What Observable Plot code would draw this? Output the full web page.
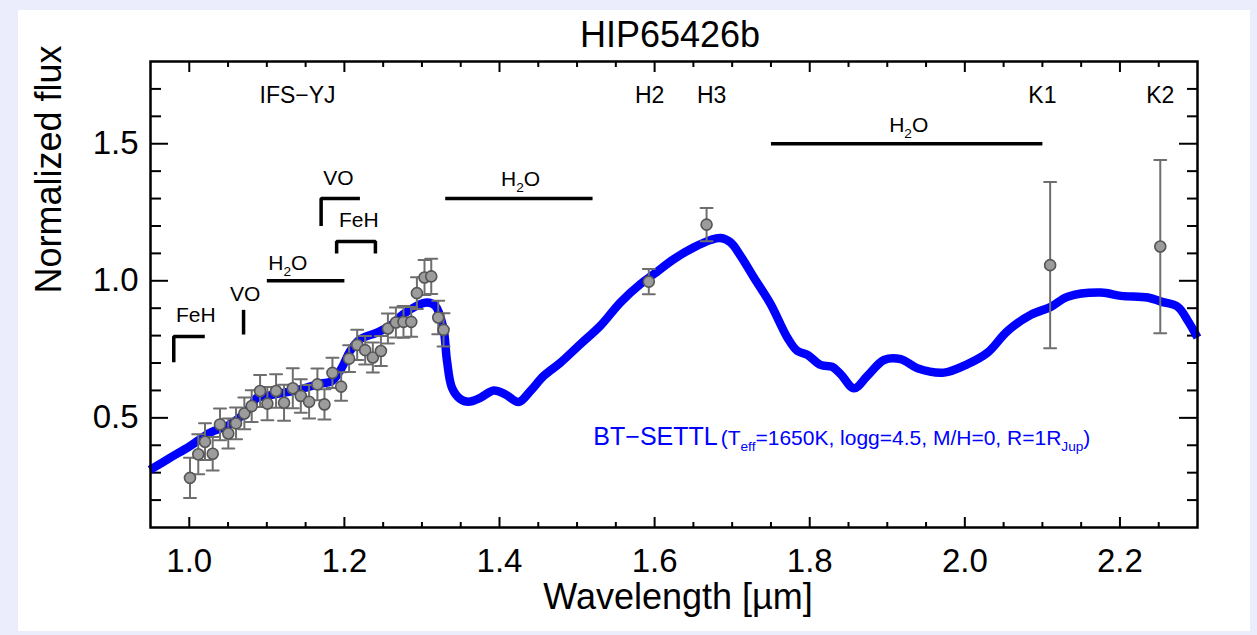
<!DOCTYPE html>
<html><head><meta charset="utf-8">
<script src="https://cdn.jsdelivr.net/npm/d3@7"></script>
<script src="https://cdn.jsdelivr.net/npm/@observablehq/plot@0.6"></script>
<style>
html,body{margin:0;padding:0;background:#ebedfc;width:1257px;height:635px;overflow:hidden;}
#panel{position:absolute;left:18px;top:10px;width:1232px;height:621px;background:#fff;}
</style></head><body><div id="panel"></div>
<script>
// ---------- data ----------
const titleText = "HIP65426b";
const xLabel = "Wavelength [µm]";
const yLabel = "Normalized flux";
const xTicks = [1.0, 1.2, 1.4, 1.6, 1.8, 2.0, 2.2];
const xMinor = [1.05, 1.1, 1.15, 1.25, 1.3, 1.35, 1.45, 1.5, 1.55, 1.65, 1.7, 1.75, 1.85, 1.9, 1.95, 2.05, 2.1, 2.15, 2.25];
const yTicks = [0.5, 1.0, 1.5];
const yMinor = [0.2, 0.3, 0.4, 0.6, 0.7, 0.8, 0.9, 1.1, 1.2, 1.3, 1.4, 1.6, 1.7];

// BT-SETTL model spectrum
const modelWave = [0.9493,0.9751,1.0009,1.0267,1.0525,1.0783,1.087,1.0999,1.1429,1.1687,1.1838,1.1967,1.2074,1.2203,1.2419,1.2591,1.2759,1.2935,1.3064,1.3172,1.3275,1.3323,1.3387,1.3494,1.3601,1.3752,1.3924,1.4075,1.4247,1.4398,1.457,1.4785,1.5043,1.5301,1.5559,1.5818,1.5989,1.6248,1.6506,1.6721,1.685,1.6979,1.7108,1.728,1.7496,1.7711,1.784,1.7969,1.8141,1.8292,1.84,1.8571,1.8744,1.8958,1.9174,1.9389,1.9733,2.0035,2.0293,2.0551,2.0852,2.111,2.1326,2.1756,2.2014,2.2358,2.253,2.2746,2.2875,2.3];
const modelFlux = [0.31,0.354,0.397,0.446,0.476,0.537,0.573,0.58,0.604,0.625,0.634,0.683,0.744,0.787,0.811,0.836,0.878,0.909,0.921,0.909,0.829,0.708,0.61,0.569,0.559,0.573,0.6,0.586,0.558,0.598,0.653,0.701,0.769,0.836,0.921,0.988,1.024,1.079,1.122,1.149,1.156,1.14,1.091,1.012,0.915,0.793,0.744,0.73,0.693,0.686,0.659,0.608,0.653,0.711,0.714,0.681,0.665,0.696,0.738,0.817,0.876,0.905,0.942,0.957,0.945,0.939,0.924,0.905,0.854,0.793];

// IFS-YJ spectrum
const ifsWave = [1.0009,1.0116,1.0203,1.0302,1.0396,1.0503,1.0603,1.0710,1.0805,1.0913,1.1007,1.1119,1.1222,1.1335,1.1438,1.1545,1.1652,1.1743,1.1846,1.1958,1.2061,1.2165,1.2268,1.2367,1.2471,1.2561,1.2664,1.2762,1.2862,1.2935,1.3033,1.3120,1.3210,1.3279];
const ifsFlux = [0.281,0.367,0.413,0.369,0.476,0.443,0.480,0.516,0.543,0.598,0.552,0.598,0.555,0.608,0.580,0.559,0.622,0.549,0.664,0.614,0.716,0.766,0.747,0.720,0.744,0.826,0.848,0.850,0.850,0.955,1.012,1.016,0.866,0.821];
const ifsErr = [0.073,0.073,0.067,0.061,0.058,0.055,0.058,0.058,0.058,0.058,0.061,0.061,0.066,0.073,0.061,0.061,0.058,0.055,0.055,0.052,0.049,0.055,0.052,0.055,0.055,0.055,0.055,0.058,0.054,0.058,0.064,0.064,0.061,0.061];

// IRDIS photometry
const irdisBands = ["H2", "H3", "K1", "K2"];
const irdisWave = [1.5925, 1.667, 2.110, 2.252];
const irdisFlux = [0.997, 1.205, 1.057, 1.125];
const irdisErr = [0.046, 0.061, 0.303, 0.316];

// filter band labels
const bandNames = ["IFS−YJ", "H2", "H3", "K1", "K2"];
const bandLabelWave = [1.1396, 1.5936, 1.6736, 2.10, 2.252];
const bandLabelFlux = [1.65, 1.65, 1.65, 1.65, 1.65];

// molecular features
const featureNames = ["FeH", "VO", "H_{2}O", "VO", "FeH", "H_{2}O", "H_{2}O"];
const featureStart = [0.98, 1.07, 1.10, 1.17, 1.19, 1.33, 1.75];
const featureEnd = [1.02, 1.07, 1.20, 1.22, 1.24, 1.52, 2.10];
const featureLevel = [0.797, 0.894, 1.0, 1.30, 1.143, 1.30, 1.50];
const featureLegs = ["left", "left", "none", "left", "both", "none", "none"];
const featureLegEnd = [0.703, 0.804, null, 1.20, 1.10, null, null];
const featureLabelWave = [1.0084, 1.0721, 1.127, 1.1924, 1.2186, 1.4272, 1.9276];
const featureLabelFlux = [0.849, 0.926, 1.040, 1.348, 1.1955, 1.346, 1.542];

// model legend
const legendText = "BT−SETTL~(T_{eff}=1650K, logg=4.5, M/H=0, R=1R_{Jup})";
const legendWave = [1.521];
const legendFlux = [0.4017];

// ---------- build ----------
const FONT = '"Liberation Sans", Arial, Helvetica, sans-serif';
const model = modelWave.map((w, i) => ({w, f: modelFlux[i]}));
const ifs = ifsWave.map((w, i) => ({w, f: ifsFlux[i], e: ifsErr[i]}));
const irdis = irdisWave.map((w, i) => ({band: irdisBands[i], w, f: irdisFlux[i], e: irdisErr[i]}));
const points = ifs.concat(irdis);
const bands = bandNames.map((n, i) => ({n, w: bandLabelWave[i], f: bandLabelFlux[i]}));
const featLabels = featureNames.map((n, i) => ({n, w: featureLabelWave[i], f: featureLabelFlux[i]}));
const bracketPts = [];
featureStart.forEach((s, i) => {
  const e = featureEnd[i], l = featureLevel[i], b = featureLegEnd[i], leg = featureLegs[i];
  const pts = [];
  if (leg === "left" || leg === "both") pts.push([s, b]);
  pts.push([s, l]); pts.push([e, l]);
  if (leg === "both") pts.push([e, b]);
  pts.forEach(([x, y]) => bracketPts.push({id: i, x, y}));
});
const legend = legendWave.map((w, i) => ({t: legendText, w, f: legendFlux[i]}));

const capShape = {draw(context, l) { context.moveTo(0, 0); context.lineTo(0, -l); }};
const errColor = "#6e6e6e";

const chart = Plot.plot({
  width: 1232, height: 621,
  marginLeft: 132, marginRight: 53, marginTop: 51, marginBottom: 104,
  x: {domain: [0.95, 2.3]},
  y: {domain: [0.1, 1.8]},
  style: {fontFamily: FONT, color: "black", background: "white", overflow: "visible"},
  marks: [
    // inward ticks on all four sides
    Plot.axisX({anchor: "bottom", ticks: xTicks, tickSize: -10, fill: "none", strokeWidth: 2, label: null}),
    Plot.axisX({anchor: "bottom", ticks: xMinor, tickSize: -5, fill: "none", strokeWidth: 2, label: null}),
    Plot.axisX({anchor: "top", ticks: xTicks, tickSize: -10, fill: "none", strokeWidth: 2, label: null}),
    Plot.axisX({anchor: "top", ticks: xMinor, tickSize: -5, fill: "none", strokeWidth: 2, label: null}),
    Plot.axisY({anchor: "left", ticks: yTicks, tickSize: -18, fill: "none", strokeWidth: 2, label: null}),
    Plot.axisY({anchor: "left", ticks: yMinor, tickSize: -11, fill: "none", strokeWidth: 2, label: null}),
    Plot.axisY({anchor: "right", ticks: yTicks, tickSize: -19, fill: "none", strokeWidth: 2, label: null}),
    Plot.axisY({anchor: "right", ticks: yMinor, tickSize: -11, fill: "none", strokeWidth: 2, label: null}),
    // tick labels
    Plot.axisX({anchor: "bottom", ticks: xTicks, tickSize: 0, tickPadding: 21, fontSize: 33, tickFormat: d3.format(".1f"), label: null}),
    Plot.axisY({anchor: "left", ticks: yTicks, tickSize: 0, tickPadding: 12, fontSize: 33, tickFormat: d3.format(".1f"), label: null}),
    // model
    Plot.line(model, {x: "w", y: "f", stroke: "#0000ff", strokeWidth: 8.5, curve: "catmull-rom", strokeLinejoin: "round", strokeLinecap: "butt"}),
    // feature brackets and labels
    Plot.line(bracketPts, {x: "x", y: "y", z: "id", stroke: "black", strokeWidth: 3.5, strokeLinejoin: "miter", strokeLinecap: "butt"}),
    Plot.text(featLabels, {x: "w", y: "f", text: "n", fontSize: 21, lineAnchor: "bottom", fill: "black"}),
    Plot.text(bands, {x: "w", y: "f", text: "n", fontSize: 23, lineAnchor: "bottom", fill: "black"}),
    // data with error bars
    Plot.ruleX(points, {x: "w", y1: d => d.f - d.e, y2: d => d.f + d.e, stroke: errColor, strokeWidth: 2}),
    Plot.vector(points, {x: "w", y: d => d.f + d.e, length: 12, rotate: 90, anchor: "middle", shape: capShape, stroke: errColor, strokeWidth: 2}),
    Plot.vector(points, {x: "w", y: d => d.f - d.e, length: 12, rotate: 90, anchor: "middle", shape: capShape, stroke: errColor, strokeWidth: 2}),
    Plot.dot(points, {x: "w", y: "f", r: 5.5, fill: "#9c9c9c", stroke: "#555555", strokeWidth: 1.6}),
    // legend
    Plot.text(legend, {x: "w", y: "f", text: "t", fontSize: 25, textAnchor: "start", lineAnchor: "bottom", fill: "#0000ff"}),
    // titles
    Plot.text([titleText], {frameAnchor: "top", dx: -4, dy: -14.3, lineAnchor: "bottom", fontSize: 36, fill: "black"}),
    Plot.text([xLabel], {frameAnchor: "bottom", dx: 4, dy: 81, lineAnchor: "bottom", fontSize: 36, fill: "black"}),
    Plot.text([yLabel], {frameAnchor: "left", dx: -115, dy: -1, rotate: -90, lineAnchor: "top", fontSize: 36, fill: "black"}),
    Plot.frame({stroke: "black", strokeWidth: 2.5})
  ]
});
document.getElementById("panel").append(chart);

// ---------- rich text (subscripts, size switch) ----------
const NS = "http://www.w3.org/2000/svg";
function richify(el) {
  const raw = el.textContent;
  if (!raw.includes("_{") && !raw.includes("~")) return;
  const base = parseFloat(getComputedStyle(el).fontSize);
  let big = raw, small = null;
  if (raw.includes("~")) { [big, small] = raw.split("~"); }
  const parts = [];
  const pushRuns = (str, size, lead) => {
    str.split(/(_\{[^}]*\})/).forEach((tok, k) => {
      if (!tok) return;
      if (tok.startsWith("_{")) parts.push({s: tok.slice(2, -1), size: size * 0.65, sub: true, ref: size});
      else parts.push({s: tok, size, sub: false, ref: size, dx: (k === 0 ? lead : 0)});
    });
  };
  pushRuns(big, base, 0);
  if (small !== null) pushRuns(small, base * 0.84, 3);
  el.textContent = "";
  let shift = 0;
  parts.forEach(p => {
    const ts = document.createElementNS(NS, "tspan");
    ts.textContent = p.s;
    ts.setAttribute("font-size", p.size);
    const target = p.sub ? p.ref * 0.28 : 0;
    const dy = target - shift;
    if (dy) ts.setAttribute("dy", dy);
    if (p.dx) ts.setAttribute("dx", p.dx);
    shift = target;
    el.appendChild(ts);
  });
}
chart.querySelectorAll("text").forEach(richify);
</script></body></html>
